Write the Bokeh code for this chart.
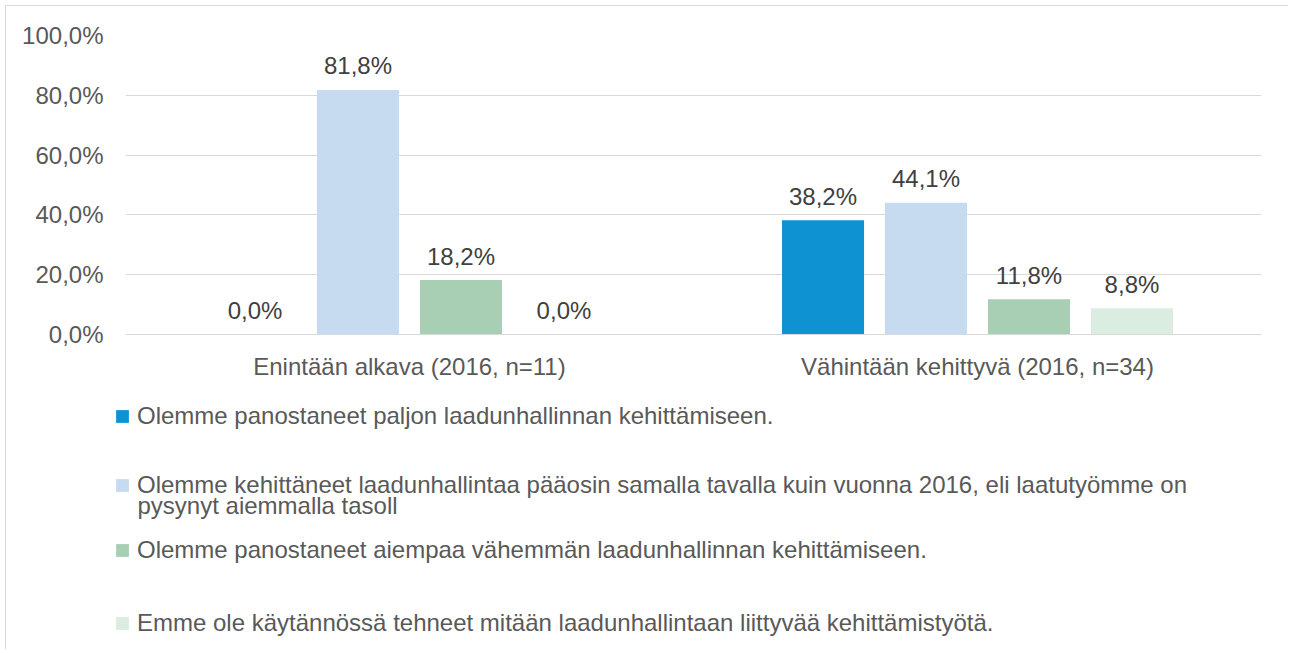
from bokeh.plotting import figure
from bokeh.models import (ColumnDataSource, FactorRange, FixedTicker, Legend, LegendItem,
                          Label, Range1d, Column)
from bokeh.transform import dodge
from bokeh.core.properties import value
from bokeh.embed import file_html
from bokeh.resources import INLINE

categories = ["Enintään alkava (2016, n=11)", "Vähintään kehittyvä (2016, n=34)"]
series_names = [
    "Olemme panostaneet paljon laadunhallinnan kehittämiseen.",
    "Olemme kehittäneet laadunhallintaa pääosin samalla tavalla kuin vuonna 2016, eli laatutyömme on",
    "Olemme panostaneet aiempaa vähemmän laadunhallinnan kehittämiseen.",
    "Emme ole käytännössä tehneet mitään laadunhallintaan liittyvää kehittämistyötä.",
]
series_cont = ["", "pysynyt aiemmalla tasoll", "", ""]
s1 = [0.0, 38.2]
s2 = [81.8, 44.1]
s3 = [18.2, 11.8]
s4 = [0.0, 8.8]
series_values = [s1, s2, s3, s4]
colors = ["#0E92D2", "#C6DBF0", "#A8CFB3", "#DAEDE0"]
y_ticks = [0, 20, 40, 60, 80, 100]

FONT = "Liberation Sans"
FS = "24px"

W = 1282
H1 = 383
H2 = 260

xr = FactorRange(*categories, range_padding=0)
p = figure(x_range=xr, y_range=Range1d(0, 100),
           width=W, height=H1, output_backend="svg", toolbar_location=None,
           min_border_left=119, min_border_right=27, min_border_top=29,
           min_border_bottom=55)
p.outline_line_color = None
p.xgrid.grid_line_color = None
p.ygrid.grid_line_color = "#D9D9D9"
p.ygrid.grid_line_width = 1.2

pitch = 0.1813
bw = 0.1444
offsets = [-1.5 * pitch, -0.5 * pitch, 0.5 * pitch, 1.5 * pitch]

def fmt(v):
    return f"{v:.1f}".replace(".", ",") + "%"

sources = []
for i, (vals, col) in enumerate(zip(series_values, colors)):
    src = ColumnDataSource(dict(cat=categories, val=vals, lab=[fmt(v) for v in vals]))
    sources.append(src)
    p.vbar(x=dodge("cat", offsets[i], range=xr), top="val", width=bw,
           source=src, fill_color=col, line_color=None)
    p.text(x=dodge("cat", offsets[i], range=xr), y="val", text="lab", source=src,
           text_align="center", text_baseline="middle", y_offset=-24,
           text_font=value(FONT), text_font_size=FS, text_color="#404040")

p.yaxis.ticker = FixedTicker(ticks=y_ticks)
p.yaxis.major_label_overrides = {t: fmt(float(t)) for t in y_ticks}
p.yaxis.axis_line_color = None
p.yaxis.major_tick_line_color = None
p.yaxis.major_tick_out = 0
p.yaxis.minor_tick_line_color = None
p.yaxis.minor_tick_out = 0
p.yaxis.major_label_standoff = 22
p.yaxis.major_label_text_font = FONT
p.yaxis.major_label_text_font_size = FS
p.yaxis.major_label_text_color = "#595959"

p.xaxis.axis_line_color = "#D9D9D9"
p.xaxis.axis_line_width = 1.2
p.xaxis.major_tick_line_color = None
p.xaxis.major_tick_out = 0
p.xaxis.minor_tick_line_color = None
p.xaxis.minor_tick_out = 0
p.xaxis.major_label_standoff = 18
p.xaxis.major_label_text_font = FONT
p.xaxis.major_label_text_font_size = FS
p.xaxis.major_label_text_color = "#595959"

# legend figure: same series as zero-width (invisible) bars, only the legend shows
lf = figure(width=W, height=H2, output_backend="svg", toolbar_location=None,
            x_range=FactorRange(*categories, range_padding=0),
            y_range=Range1d(-1000, -999),
            min_border_left=0, min_border_right=0, min_border_top=0, min_border_bottom=0)
lf.axis.visible = False
lf.grid.visible = False
lf.outline_line_color = None
for fig in (p, lf):
    if "frame_align" in fig.properties():
        fig.frame_align = False

row_y = [219, 150, 85, 12]
for i, col in enumerate(colors):
    r = lf.vbar(x=dodge("cat", offsets[i], range=lf.x_range), top="val", width=0,
                source=sources[i], fill_color=col, line_color=None)
    lg = Legend(items=[LegendItem(label=series_names[i], renderers=[r])],
                location=(108, row_y[i]), orientation="vertical",
                glyph_width=16, glyph_height=16, label_standoff=7,
                label_height=26, padding=0, margin=0, spacing=0,
                border_line_color=None, background_fill_alpha=0,
                label_text_font=FONT, label_text_font_size=FS,
                label_text_color="#595959")
    lf.add_layout(lg)
    if series_cont[i]:
        lf.add_layout(Label(x=131, y=row_y[i] - 6, x_units="screen", y_units="screen",
                            text=series_cont[i], text_align="left", text_baseline="middle",
                            text_font=FONT, text_font_size=FS, text_color="#595959"))

layout = Column(p, lf, spacing=0,
                styles={"border-top": "1px solid #D9D9D9", "border-left": "1px solid #D9D9D9",
                        "margin-left": "5px", "margin-top": "5px"})

open("out.html", "w").write(file_html(layout, INLINE))
